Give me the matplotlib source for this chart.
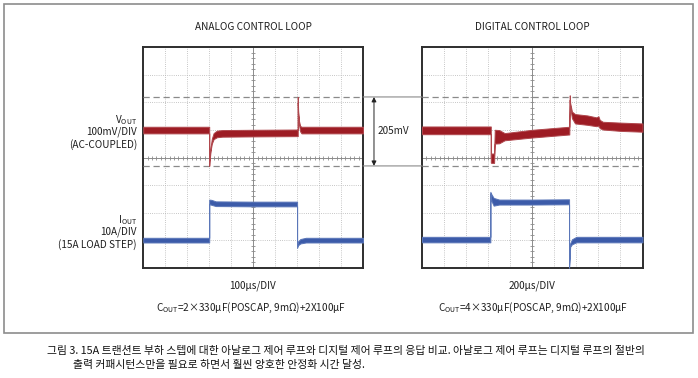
import matplotlib
matplotlib.use('Agg')
import matplotlib.pyplot as plt
import numpy as np
from matplotlib.patches import Rectangle, ConnectionPatch

plt.rcParams['font.family'] = ['Noto Sans CJK KR', 'DejaVu Sans']

W, H = 698, 378

# values in scope divisions (x: 0..10 div, y: -4..4 div)
cursor_levels = [2.2, -0.3]

# analog loop, Vout trace: time, centre, half thickness
an_v_t = [0, 3.00, 3.00, 3.02, 3.06, 3.12, 3.20, 3.35, 3.6, 5.0, 7.03, 7.03, 7.05, 7.09, 7.14, 7.2, 10]
an_v_mid = [1.0, 1.0, -0.2, -0.05, 0.3, 0.6, 0.78, 0.86, 0.88, 0.89, 0.9, 2.1, 1.6, 1.25, 1.05, 1.0, 1.0]
an_v_hw = [0.12, 0.12, 0.1, 0.06, 0.06, 0.09, 0.11, 0.12, 0.12, 0.12, 0.12, 0.1, 0.05, 0.07, 0.1, 0.12, 0.12]

# analog loop, Iout trace
an_i_t = [0, 3.0, 3.0, 3.1, 3.3, 5.0, 7.0, 7.0, 7.05, 7.15, 7.4, 10]
an_i_mid = [-2.99, -2.99, -1.6, -1.62, -1.67, -1.68, -1.68, -3.22, -3.1, -3.03, -2.99, -2.99]
an_i_hw = [0.085, 0.085, 0.08, 0.09, 0.085, 0.085, 0.085, 0.05, 0.07, 0.08, 0.085, 0.085]

# digital loop, Vout trace
dg_v_t = [0, 3.12, 3.12, 3.15, 3.27, 3.30, 3.5, 3.75, 5.0, 6.68, 6.70, 6.72, 6.80, 6.94, 7.5, 7.91, 8.0, 8.06, 8.2, 9.0, 10]
dg_v_mid = [0.99, 0.99, -0.1, -0.02, -0.02, 0.76, 0.76, 0.76, 0.87, 0.98, 2.18, 1.9, 1.55, 1.41, 1.36, 1.30, 1.33, 1.22, 1.16, 1.12, 1.09]
dg_v_hw = [0.14, 0.14, 0.08, 0.17, 0.17, 0.25, 0.24, 0.13, 0.14, 0.14, 0.08, 0.08, 0.12, 0.17, 0.17, 0.16, 0.17, 0.15, 0.14, 0.15, 0.15]

# digital loop, Iout trace
dg_i_t = [0, 3.10, 3.10, 3.15, 3.25, 3.5, 5.0, 6.67, 6.67, 6.72, 6.8, 7.0, 10]
dg_i_mid = [-2.97, -2.97, -1.27, -1.45, -1.6, -1.61, -1.61, -1.60, -3.97, -3.17, -3.05, -2.97, -2.97]
dg_i_hw = [0.1, 0.1, 0.03, 0.12, 0.14, 0.09, 0.09, 0.09, 0.03, 0.06, 0.09, 0.1, 0.1]

red = '#9d1c24'
red_edge = '#b0474d'
blue = '#3c5ba9'
blue_edge = '#5a76b8'


def fx(x):
    return x / W


def fy(y):
    return 1 - y / H


def draw_trace(ax, t, mid, hw, color, edge):
    t = np.array(t)
    mid = np.array(mid)
    hw = np.array(hw)
    ax.fill_between(t, mid - hw, mid + hw, facecolor=color, edgecolor=edge,
                    linewidth=0.7, zorder=5)


def scope_panel(ax):
    ax.set_xlim(0, 10)
    ax.set_ylim(-4, 4)
    ax.set_xticks([])
    ax.set_yticks([])
    for s in ax.spines.values():
        s.set_linewidth(1.4)
        s.set_color('#2e2e2e')
    for x in range(1, 10):
        if x != 5:
            ax.axvline(x, color='#b4b4b4', lw=0.6, ls=(0, (1, 1.6)), zorder=1)
    for y in range(-3, 4):
        if y != 0:
            ax.axhline(y, color='#b4b4b4', lw=0.6, ls=(0, (1, 1.6)), zorder=1)
    ax.axvline(5, color='#8c8c8c', lw=0.7, zorder=2)
    ax.axhline(0, color='#8c8c8c', lw=0.7, zorder=2)
    tx = np.arange(0.2, 10, 0.2)
    ax.plot(tx, np.zeros_like(tx), ls='none', marker='|', ms=2.5, mew=0.6, color='#8c8c8c', zorder=2)
    ty = np.arange(-3.8, 4, 0.2)
    ax.plot(np.full_like(ty, 5), ty, ls='none', marker='_', ms=2.5, mew=0.6, color='#8c8c8c', zorder=2)
    for lvl in cursor_levels:
        ax.axhline(lvl, color='#8a8a8a', lw=0.9, dashes=(5, 3), zorder=3)


fig = plt.figure(figsize=(W / 100, H / 100), dpi=100)
fig.patch.set_facecolor('white')

ax_l = fig.add_axes([fx(143.3), fy(268), 219.7 / W, 220.7 / H])
ax_r = fig.add_axes([fx(422), fy(268), 220.5 / W, 220.7 / H])
for ax in (ax_l, ax_r):
    scope_panel(ax)

draw_trace(ax_l, an_v_t, an_v_mid, an_v_hw, red, red_edge)
draw_trace(ax_l, an_i_t, an_i_mid, an_i_hw, blue, blue_edge)
draw_trace(ax_r, dg_v_t, dg_v_mid, dg_v_hw, red, red_edge)
draw_trace(ax_r, dg_i_t, dg_i_mid, dg_i_hw, blue, blue_edge)

# cursor lines linking both panels, with the 205mV arrow
for lvl in cursor_levels:
    con = ConnectionPatch(xyA=(10, lvl), coordsA=ax_l.transData,
                          xyB=(0, lvl), coordsB=ax_r.transData,
                          color='#8a8a8a', lw=0.8)
    fig.add_artist(con)
ax_l.annotate('', xy=(1.05, cursor_levels[1]), xytext=(1.05, cursor_levels[0]),
              xycoords=ax_l.get_yaxis_transform(), textcoords=ax_l.get_yaxis_transform(),
              arrowprops=dict(arrowstyle='<|-|>', color='#222222', lw=0.7,
                              mutation_scale=7, shrinkA=0, shrinkB=0))
ax_l.text(1.137, np.mean(cursor_levels), '205mV', transform=ax_l.get_yaxis_transform(),
          ha='center', va='center', fontsize=7.2, color='#222222')

# outer frame
fig.patches.append(Rectangle((fx(3.5), fy(333)), (693 - 3.5) / W, (333 - 3.5) / H,
                             transform=fig.transFigure, fill=False,
                             edgecolor='#8c8c8c', lw=1.2))

fs = 7.2
tc = '#1e1e1e'
fig.text(fx(253), fy(27), 'ANALOG CONTROL LOOP', ha='center', va='center', fontsize=fs, color=tc)
fig.text(fx(532), fy(27), 'DIGITAL CONTROL LOOP', ha='center', va='center', fontsize=fs, color=tc)

fig.text(fx(137), fy(120), r'$\mathregular{V_{OUT}}$', ha='right', va='center', fontsize=fs, color=tc)
fig.text(fx(137), fy(132), '100mV/DIV', ha='right', va='center', fontsize=fs, color=tc)
fig.text(fx(137), fy(145), '(AC-COUPLED)', ha='right', va='center', fontsize=fs, color=tc)
fig.text(fx(137), fy(220), r'$\mathregular{I_{OUT}}$', ha='right', va='center', fontsize=fs, color=tc)
fig.text(fx(137), fy(232), '10A/DIV', ha='right', va='center', fontsize=fs, color=tc)
fig.text(fx(137), fy(245), '(15A LOAD STEP)', ha='right', va='center', fontsize=fs, color=tc)

fig.text(fx(253), fy(286), '100µs/DIV', ha='center', va='center', fontsize=fs, color=tc)
fig.text(fx(251), fy(308), r'$\mathregular{C_{OUT}}$=2×330µF(POSCAP, 9mΩ)+2X100µF',
         ha='center', va='center', fontsize=fs, color=tc)
fig.text(fx(532), fy(286), '200µs/DIV', ha='center', va='center', fontsize=fs, color=tc)
fig.text(fx(533), fy(308), r'$\mathregular{C_{OUT}}$=4×330µF(POSCAP, 9mΩ)+2X100µF',
         ha='center', va='center', fontsize=fs, color=tc)

cap1 = '그림 3. 15A 트랜션트 부하 스텝에 대한 아날로그 제어 루프와 디지털 제어 루프의 응답 비교. 아날로그 제어 루프는 디지털 루프의 절반의'
cap2 = '출력 커패시턴스만을 필요로 하면서 훨씬 양호한 안정화 시간 달성.'
fig.text(fx(47), fy(351), cap1, ha='left', va='center', fontsize=7.8, color='#111111')
fig.text(fx(73), fy(365), cap2, ha='left', va='center', fontsize=7.8, color='#111111')

fig.savefig('out.png', dpi=100)
